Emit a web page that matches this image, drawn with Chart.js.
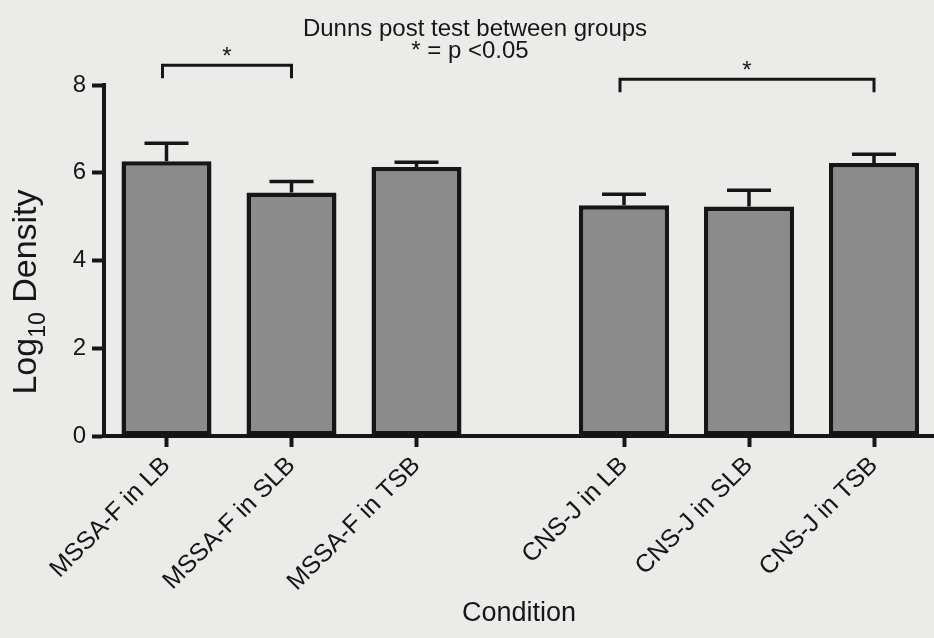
<!DOCTYPE html>
<html>
<head>
<meta charset="utf-8">
<script src="https://cdn.jsdelivr.net/npm/chart.js@4/dist/chart.umd.min.js"></script>
<style>
  html, body { margin: 0; padding: 0; background: #ebebea; }
  #wrap { width: 934px; height: 638px; position: relative; }
</style>
</head>
<body>
<div id="wrap"><canvas id="densityChart" width="934" height="638"></canvas></div>
<script>
// dữ liệu
const conditions = ['MSSA-F in LB', 'MSSA-F in SLB', 'MSSA-F in TSB', 'CNS-J in LB', 'CNS-J in SLB', 'CNS-J in TSB'];
const slots = [0, 1, 2, 3.66, 4.66, 5.66]; // vị trí nhóm trên trục x (có khoảng trống giữa 2 chủng)
const meanDensity = [6.26, 5.55, 6.13, 5.26, 5.23, 6.22];
const upperError = [6.67, 5.80, 6.24, 5.51, 5.60, 6.42];
const yTicks = [0, 2, 4, 6, 8];

// cặp so sánh có ý nghĩa (Dunns)
const sigFrom = [0, 3];
const sigTo = [1, 5];
const sigLevel = [8.45, 8.13];

const ink = '#161616';
const fontFam = '"Liberation Sans", Arial, sans-serif';

// vẽ thanh sai số, dấu ngoặc và chữ
const extrasPlugin = {
  id: 'extras',
  afterDatasetsDraw(chart) {
    const ctx = chart.ctx;
    const xs = chart.scales.x;
    const ys = chart.scales.y;
    ctx.save();
    ctx.strokeStyle = ink;
    ctx.lineCap = 'butt';

    // error bars (chỉ phía trên)
    ctx.lineWidth = 3.5;
    meanDensity.forEach((m, i) => {
      const x = xs.getPixelForValue(slots[i]);
      const y0 = ys.getPixelForValue(m);
      const y1 = ys.getPixelForValue(upperError[i]);
      ctx.beginPath();
      ctx.moveTo(x, y0);
      ctx.lineTo(x, y1);
      ctx.moveTo(x - 22, y1);
      ctx.lineTo(x + 22, y1);
      ctx.stroke();
    });

    // brackets
    ctx.lineWidth = 3;
    ctx.fillStyle = ink;
    ctx.font = '24px ' + fontFam;
    ctx.textAlign = 'center';
    ctx.textBaseline = 'alphabetic';
    sigFrom.forEach((a, k) => {
      const xa = xs.getPixelForValue(slots[a]) - 4;
      const xb = xs.getPixelForValue(slots[sigTo[k]]);
      const y = ys.getPixelForValue(sigLevel[k]);
      ctx.beginPath();
      ctx.moveTo(xa, y + 13);
      ctx.lineTo(xa, y);
      ctx.lineTo(xb, y);
      ctx.lineTo(xb, y + 13);
      ctx.stroke();
      ctx.fillText('*', (xa + xb) / 2, y - 1);
    });

    // tiêu đề
    ctx.font = '24px ' + fontFam;
    ctx.fillText('Dunns post test between groups', 475, 36);
    ctx.fillText('* = p <0.05', 470, 58);

    // nhãn trục y có chỉ số dưới
    ctx.translate(36, 292);
    ctx.rotate(-Math.PI / 2);
    const big = '34px ' + fontFam;
    const small = '23px ' + fontFam;
    ctx.font = big;
    const w1 = ctx.measureText('Log').width;
    const w3 = ctx.measureText(' Density').width;
    ctx.font = small;
    const w2 = ctx.measureText('10').width;
    let x = -(w1 + w2 + w3) / 2;
    ctx.textAlign = 'left';
    ctx.font = big;
    ctx.fillText('Log', x, 0);
    x += w1;
    ctx.font = small;
    ctx.fillText('10', x, 9);
    x += w2;
    ctx.font = big;
    ctx.fillText(' Density', x, 0);
    ctx.restore();
  }
};

const ctx = document.getElementById('densityChart').getContext('2d');
const densityChart = new Chart(ctx, {
  type: 'bar',
  data: {
    datasets: [{
      data: slots.map((s, i) => ({ x: s, y: meanDensity[i] })),
      backgroundColor: '#8b8b8b',
      borderColor: ink,
      borderWidth: 4.5,
      borderSkipped: false,
      categoryPercentage: 1,
      barPercentage: 0.72
    }]
  },
  options: {
    responsive: false,
    animation: false,
    layout: { padding: { top: 85, right: 0, left: 0, bottom: 0 } },
    plugins: {
      legend: { display: false },
      tooltip: { enabled: false }
    },
    scales: {
      x: {
        type: 'linear',
        offset: false,
        min: -0.5,
        max: 6.14,
        afterBuildTicks: (scale) => { scale.ticks = slots.map(v => ({ value: v })); },
        afterFit: (scale) => { scale.height = 202; },
        ticks: {
          autoSkip: false,
          minRotation: 45,
          maxRotation: 45,
          padding: 4,
          color: ink,
          font: { family: fontFam, size: 25 },
          callback: (v, i) => conditions[i]
        },
        grid: { offset: false, drawOnChartArea: false, drawTicks: true, tickLength: 11, tickWidth: 4, tickColor: ink },
        border: { width: 4, color: ink },
        title: {
          display: true,
          text: 'Condition',
          color: ink,
          font: { family: fontFam, size: 27 },
          padding: { top: 0, bottom: 8 }
        }
      },
      y: {
        min: 0,
        max: 8,
        afterBuildTicks: (scale) => { scale.ticks = yTicks.map(v => ({ value: v })); },
        afterFit: (scale) => { scale.width = 104; },
        ticks: {
          color: ink,
          padding: 6,
          font: { family: fontFam, size: 24 }
        },
        grid: { drawOnChartArea: false, drawTicks: true, tickLength: 12, tickWidth: 4, tickColor: ink },
        border: { width: 4, color: ink }
      }
    }
  },
  plugins: [extrasPlugin]
});
</script>
</body>
</html>
